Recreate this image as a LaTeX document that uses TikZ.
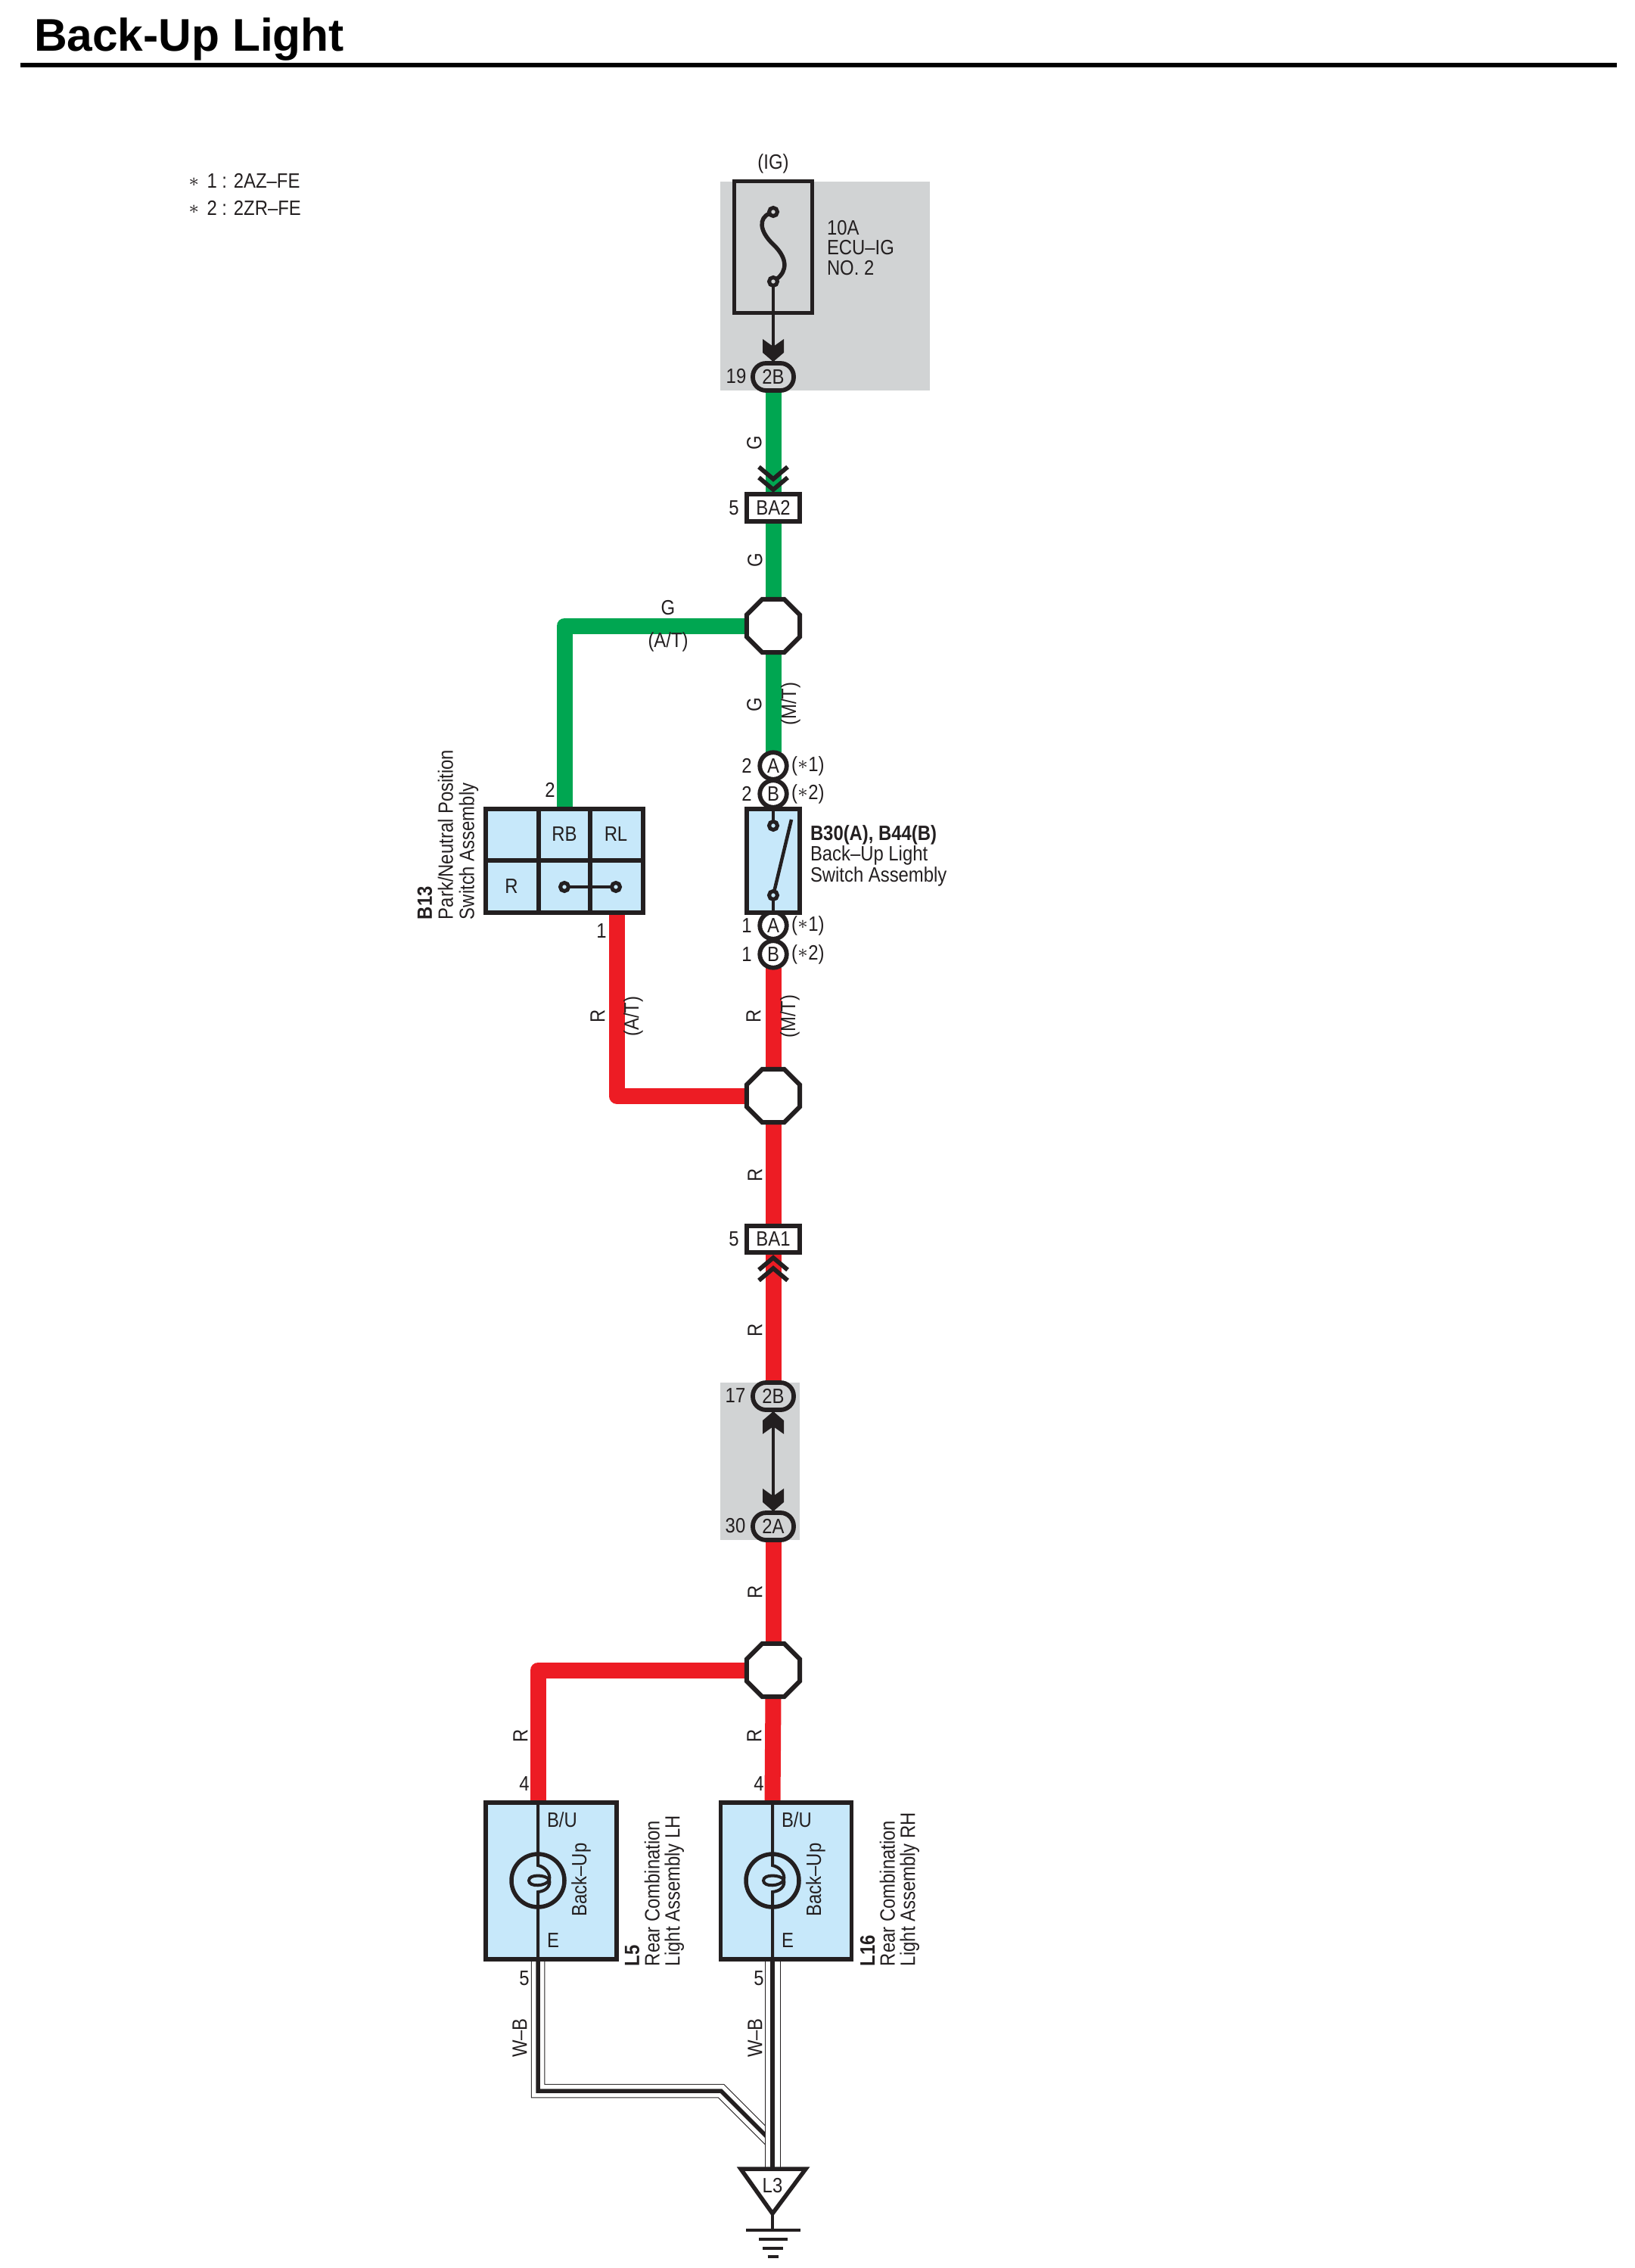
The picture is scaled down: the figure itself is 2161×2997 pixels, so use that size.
\documentclass[tikz,border=0pt]{standalone}
\usepackage{fontspec}
\setmainfont[FakeStretch=0.87]{Liberation Sans}
\newfontfamily\titlefont{Liberation Sans}
\usetikzlibrary{shapes.geometric,backgrounds}
\definecolor{wiregreen}{HTML}{00A651}
\definecolor{wirered}{HTML}{ED1C24}
\definecolor{partblue}{HTML}{C7E8FA}
\definecolor{boxgray}{HTML}{D1D3D4}
\definecolor{ink}{HTML}{231F20}
\newcommand{\stark}{\raisebox{0.7pt}{\scriptsize$\ast$}}
\tikzset{
    lbl/.style={inner sep=0pt, outer sep=0pt, text=ink, font=\fontsize{7.8}{7.6}\selectfont},
    vlbl/.style={lbl, rotate=90},
    heavy/.style={draw=ink, line width=0.058cm},
    thinblack/.style={draw=ink, line width=0.037cm},
    part/.style={heavy, rectangle, fill=partblue, outer sep=0pt, inner sep=0pt},
    tag/.style={heavy, rectangle, fill=white, outer sep=0pt, inner sep=0pt, minimum width=0.7cm, minimum height=0.355cm, lbl, text=ink},
    oval/.style={heavy, rectangle, rounded corners=0.175cm, outer sep=0pt, inner sep=0pt, minimum width=0.54cm, minimum height=0.36cm, lbl, text=ink},
    ring/.style={heavy, circle, fill=white, outer sep=0pt, inner sep=0pt, minimum size=0.355cm, lbl, text=ink},
    splice/.style={draw=ink, line width=0.06cm, regular polygon, regular polygon sides=8, fill=white, minimum size=0.76cm, outer sep=0pt, inner sep=0pt},
    dot/.style={draw=ink, line width=0.05cm, circle, fill=partblue, minimum size=0.11cm, inner sep=0pt, outer sep=0pt},
    greenwire/.style={draw=wiregreen, line width=0.21cm, line join=round},
    redwire/.style={draw=wirered, line width=0.21cm, line join=round},
    pics/chevron/.style={code={\draw[heavy] (-19,-8) -- (0,8) -- (19,-8);}},
    pics/jackarrow/.style={code={\fill[ink] (-14,-30) -- (0,-20) -- (14,-30) -- (14,-12) -- (0,0) -- (-14,-12) -- cycle;}},
    pics/lampbulb/.style={code={
        \draw[draw=ink, line width=0.055cm] (0,0) circle (35);
        \draw[draw=ink, line width=0.04cm] (0,-106) -- (0,-20) .. controls (10,-18) and (17,-9) .. (15,-1) .. controls (11,-8) and (-12,-9) .. (-12,0) .. controls (-12,9) and (11,8) .. (15,-1) .. controls (17,8) and (10,14) .. (0,15) -- (0,104);
    }},
}
\begin{document}
\begin{tikzpicture}[x=0.01cm,y=-0.01cm]
    \useasboundingbox (0,0) rectangle (2161,2997);

    % title and legend
    \node[lbl, text=black, anchor=base west, font=\titlefont\bfseries\fontsize{17.2}{20}\selectfont] (title) at (45,68) {Back-Up Light};
    \draw[draw=black, line width=0.065cm] (27,86) -- (2137,86);
    \node[lbl, anchor=west] (note1) at (249,239) {\stark\hspace{1pt} 1 : 2AZ--FE};
    \node[lbl, anchor=west] (note2) at (249,275) {\stark\hspace{1pt} 2 : 2ZR--FE};

    % fuse
    \node[lbl] (ig) at (1022,216) {(IG)};
    \node[heavy, rectangle, minimum width=1.03cm, minimum height=1.74cm, outer sep=0pt] (fuse) at (1022,326.5) {};
    \node[dot, fill=boxgray] (fuseT) at (1022,280) {};
    \node[dot, fill=boxgray] (fuseB) at (1022,372) {};
    \node[lbl, anchor=north west, align=left] (fusetxt) at (1093,291) {10A\\ECU--IG\\NO. 2};
    \node[oval] (c2B) at (1022,498) {2B};

    % connectors and splices on the main run
    \node[tag] (ba2) at (1022,671) {BA2};
    \node[splice] (sp1) at (1022,827) {};
    \node[ring] (swA1) at (1022,1012) {A};
    \node[ring] (swB1) at (1022,1049) {B};
    \node[ring] (swA2) at (1022,1223) {A};
    \node[ring] (swB2) at (1022,1261) {B};
    \node[splice] (sp2) at (1022,1448) {};
    \node[tag] (ba1) at (1022,1637.5) {BA1};
    \node[oval] (c2Bb) at (1022,1845) {2B};
    \node[oval] (c2A) at (1022,2017) {2A};
    \node[splice] (sp3) at (1022,2207) {};

    % park/neutral switch
    \node[part, minimum width=2.08cm, minimum height=1.37cm] (pnsw) at (746,1137.5) {};
    \draw[heavy] (712,1069) -- (712,1206);
    \draw[heavy] (780,1069) -- (780,1206);
    \draw[heavy] (642,1137) -- (850,1137);
    \coordinate (pnpin2) at (746,1066);
    \coordinate (pnpin1) at (815,1209);
    \node[lbl] (pnRB) at (746,1102) {RB};
    \node[lbl] (pnRL) at (814,1102) {RL};
    \node[lbl] (pnR) at (676,1171) {R};
    \node[dot] (pnc1) at (746,1172) {};
    \node[dot] (pnc2) at (814,1172) {};
    \draw[thinblack] (pnc1) -- (pnc2);
    \node[vlbl, anchor=west, align=left, font=\fontsize{7.8}{7.9}\selectfont] (pntxt) at (592,1215) {\textbf{B13}\\Park/Neutral Position\\Switch Assembly};

    % back-up switch
    \node[part, minimum width=0.7cm, minimum height=1.37cm] (busw) at (1022,1137.5) {};
    \node[dot] (buT) at (1022,1091) {};
    \node[dot] (buB) at (1022,1183) {};
    \draw[thinblack] (busw.north) -- (buT);
    \draw[thinblack] (buB) -- (busw.south);
    \draw[thinblack, line width=0.045cm] (buB) -- (1046,1083);
    \node[lbl, anchor=north west, align=left, font=\fontsize{7.8}{7.7}\selectfont] (butxt) at (1071,1091) {\textbf{B30(A), B44(B)}\\Back--Up Light\\Switch Assembly};
    \foreach \y/\t [count=\i] in {1012/1,1049/2,1223/1,1261/2}
        \node[lbl, anchor=west] (sel\i) at (1046,\y) {(\stark\t)};

    % lamps
    \foreach \n/\x/\cx in {lampL/711/728.5,lampR/1021/1039}{
        \node[part, minimum width=1.73cm, minimum height=2.07cm] (\n) at (\cx,2485.5) {};
        \coordinate (\n top) at (\x,2379);
        \coordinate (\n bot) at (\x,2592);
        \pic at (\x,2485) {lampbulb};
        \node[lbl, anchor=west] (\n BU) at (\x+12,2405) {B/U};
        \node[lbl, anchor=west] (\n E) at (\x+12,2564) {E};
        \node[vlbl] (\n txt) at (\x+57,2484) {Back--Up};
    }
    \node[vlbl, anchor=west, align=left] (lampLlbl) at (865,2598) {\textbf{L5}\\Rear Combination\\Light Assembly LH};
    \node[vlbl, anchor=west, align=left] (lampRlbl) at (1176,2598) {\textbf{L16}\\Rear Combination\\Light Assembly RH};

    % ground
    \coordinate (gndtop) at (1021,2866);
    \coordinate (gndtip) at (1021,2925);
    \coordinate (gndbar) at (1021,2947);
    \node[lbl] (gndL3) at (1021,2888) {L3};
    \draw[draw=ink, line width=0.055cm, line join=miter] (979,2866) -- (1065,2866) -- (gndtip) -- cycle;
    \draw[thinblack] (gndtip) -- (gndbar);
    \draw[draw=ink, line width=0.04cm] (986,2947) -- (1058,2947);
    \draw[draw=ink, line width=0.04cm] (1003,2959) -- (1041,2959);
    \draw[draw=ink, line width=0.04cm] (1008,2970.5) -- (1035,2970.5);
    \draw[draw=ink, line width=0.04cm] (1014.5,2982) -- (1029,2982);

    % wires under the parts
    \begin{scope}[on background layer]
        \fill[boxgray] (952,240) rectangle (1229,516);
        \fill[boxgray] (952,1827) rectangle (1057,2035);
        \draw[greenwire] (c2B.south) -- (ba2.north);
        \draw[greenwire] (ba2.south) -- (sp1.north);
        \draw[greenwire] (sp1.south) -- (swA1.north);
        \draw[greenwire] (sp1.west) -| (pnpin2);
        \draw[redwire] (swB2.south) -- (sp2.north);
        \draw[redwire] (pnpin1) |- (sp2.west);
        \draw[redwire] (sp2.south) -- (ba1.north);
        \draw[redwire] (ba1.south) -- (c2Bb.north);
        \draw[redwire] (c2A.south) -- (sp3.north);
        \draw[redwire] (sp3.south) -- (lampRtop);
        \draw[redwire] (sp3.west) -| (lampLtop);
        % ground wires, black on white
        \coordinate (lbend1) at (711,2763);
        \coordinate (lbend2) at (953,2763);
        \coordinate (lend) at (1021,2831);
        \draw[draw=ink, line width=0.185cm] (lampLbot) -- (lbend1) -- (lbend2) -- (lend);
        \draw[draw=white, line width=0.165cm] (lampLbot) -- (lbend1) -- (lbend2) -- (lend);
        \draw[draw=ink, line width=0.055cm] (lampLbot) -- (lbend1) -- (lbend2) -- (lend);
        \draw[draw=ink, line width=0.21cm] (lampRbot) -- (gndtop);
        \draw[draw=white, line width=0.19cm] (lampRbot) -- (gndtop);
        \draw[draw=ink, line width=0.055cm] (lampRbot) -- (gndtop);
    \end{scope}

    % fuse element and the black links
    \draw[draw=ink, line width=0.055cm] (fuseT) .. controls (1003,288) and (1003,305) .. (1022,323) .. controls (1041,341) and (1041,358) .. (fuseB);
    \draw[thinblack] (fuseB) -- (c2B.north);
    \draw[thinblack] (c2Bb.south) -- (c2A.north);
    \pic at (1022,478) {jackarrow};
    \pic[rotate=180] at (1022,1865) {jackarrow};
    \pic at (1022,1997) {jackarrow};
    \pic at (1022,625) {chevron};
    \pic at (1022,639) {chevron};
    \pic[rotate=180] at (1022,1670) {chevron};
    \pic[rotate=180] at (1022,1684) {chevron};

    % wire colours
    \foreach \x/\y/\t [count=\i] in {997/585/G,998/740/G,997/931/G,790/1343/R,996/1343/R,998/1553/R,998/1758/R,998/2104/R,688/2294/R,997/2294/R,1045/930/{(M/T)},1044/1343/{(M/T)},837/1343/{(A/T)},687/2693/W--B,998/2693/W--B}
        \node[vlbl] (wl\i) at (\x,\y) {\t};
    \node[lbl] (wlG) at (883,803) {G};
    \node[lbl] (wlAT) at (883,848) {(A/T)};

    % pin numbers
    \foreach \x/\y/\t [count=\i] in {973/497/19,970/671/5,970/1637/5,972/1844/17,972/2016/30,987/1012/2,987/1049/2,987/1223/1,987/1261/1,727/1044/2,795/1230/1,693/2357/4,1003/2357/4,693/2614/5,1003/2614/5}
        \node[lbl] (pin\i) at (\x,\y) {\t};
\end{tikzpicture}
\end{document}
